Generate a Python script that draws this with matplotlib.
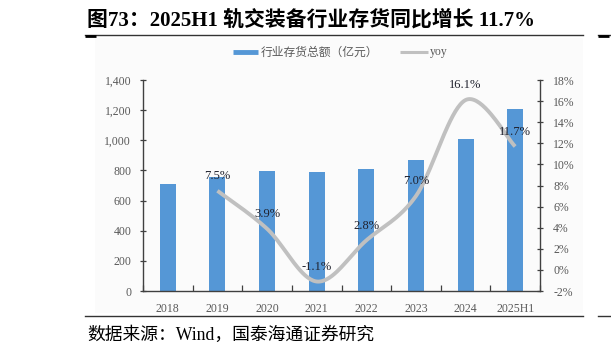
import matplotlib
matplotlib.use('Agg')
import matplotlib.pyplot as plt
import numpy as np
from matplotlib.lines import Line2D
from matplotlib.patches import Rectangle
from matplotlib.ticker import FuncFormatter, FixedLocator

# ---------------- data ----------------
categories = ['2018', '2019', '2020', '2021', '2022', '2023', '2024', '2025H1']
inventory = [712, 758, 798, 789, 812, 868, 1008, 1210]          # 行业存货总额（亿元）
yoy_categories = ['2019', '2020', '2021', '2022', '2023', '2024', '2025H1']
yoy = [7.5, 3.9, -1.1, 2.8, 7.0, 16.1, 11.7]                      # yoy %
left_ticks = [0, 200, 400, 600, 800, 1000, 1200, 1400]
right_ticks = [-2, 0, 2, 4, 6, 8, 10, 12, 14, 16, 18]

title = '图73：2025H1 轨交装备行业存货同比增长 11.7%'
source = '数据来源：Wind，国泰海通证券研究'
legend_bar = '行业存货总额（亿元）'
legend_line = 'yoy'

# ---------------- style ----------------
BAR = '#5597d6'
LINE = '#c0c0c0'
SPINE = '#404040'
TICKTXT = '#595959'
SERIF = ['Liberation Serif', 'Noto Sans CJK SC']
CJK = ['Noto Sans CJK SC', 'Liberation Serif']

W, H = 611, 356
fig = plt.figure(figsize=(W / 100, H / 100), dpi=100)
fig.patch.set_facecolor('white')

def fx(px):
    return px / W

def fy(py):
    return 1 - py / H

# light background of the pasted chart image
fig.add_artist(Rectangle((fx(95), fy(313)), fx(583) - fx(95), fy(38) - fy(313),
                         transform=fig.transFigure, facecolor='#fbfbfb',
                         edgecolor='none', zorder=0))

ax = fig.add_axes([fx(143), fy(291), fx(540) - fx(143), fy(80) - fy(291)])
ax.set_facecolor('none')
x = np.arange(len(categories))
ax.bar(x, inventory, width=0.32, color=BAR, zorder=2)
ax.set_xlim(-0.5, len(categories) - 0.5)
ax.set_ylim(0, 1400)
ax.yaxis.set_major_locator(FixedLocator(left_ticks))
ax.yaxis.set_major_formatter(FuncFormatter(lambda v, p: f'{int(v):,}'))
ax.set_xticks(x)
ax.set_xticklabels(categories)
ax.set_xticks(np.arange(-0.5, len(categories)), minor=True)
ax.tick_params(axis='x', which='major', length=0, pad=9, labelsize=8.5,
               labelcolor=TICKTXT)
ax.tick_params(axis='x', which='minor', direction='in', length=4,
               color=SPINE, width=0.9)
ax.tick_params(axis='y', direction='inout', length=5, color=SPINE, width=0.9,
               labelsize=8.5, labelcolor=TICKTXT, pad=6)
for lab in ax.get_xticklabels() + ax.get_yticklabels():
    lab.set_family(SERIF)
ax.spines['top'].set_visible(False)
ax.spines['right'].set_visible(False)
for s in ('left', 'bottom'):
    ax.spines[s].set_color(SPINE)
    ax.spines[s].set_linewidth(1.0)

ax2 = ax.twinx()
ax2.set_ylim(-2, 18)
ax2.yaxis.set_major_locator(FixedLocator(right_ticks))
ax2.yaxis.set_major_formatter(FuncFormatter(lambda v, p: f'{int(v)}%'))
ax2.tick_params(axis='y', direction='inout', length=5, color=SPINE, width=0.9,
                labelsize=8.5, labelcolor=TICKTXT, pad=7)
for lab in ax2.get_yticklabels():
    lab.set_family(SERIF)
for s in ('top', 'left', 'bottom'):
    ax2.spines[s].set_visible(False)
ax2.spines['right'].set_color(SPINE)
ax2.spines['right'].set_linewidth(1.0)

# smoothed (Excel style) line through the yoy points, computed in display space
xi = np.array([categories.index(c) for c in yoy_categories], dtype=float)
pts = ax2.transData.transform(np.column_stack([xi, yoy]))
n = len(pts)
segs = []
t = np.linspace(0, 1, 40)[:, None]
for i in range(n - 1):
    p0 = pts[max(i - 1, 0)]
    p1 = pts[i]
    p2 = pts[i + 1]
    p3 = pts[min(i + 2, n - 1)]
    c1 = p1 + (p2 - p0) / 6
    c2 = p2 - (p3 - p1) / 6
    seg = (1 - t) ** 3 * p1 + 3 * (1 - t) ** 2 * t * c1 + 3 * (1 - t) * t ** 2 * c2 + t ** 3 * p2
    segs.append(seg if i == 0 else seg[1:])
curve = ax2.transData.inverted().transform(np.vstack(segs))
ax2.plot(curve[:, 0], curve[:, 1], color=LINE, lw=2.8, solid_capstyle='butt', zorder=3)

for xv, v in zip(xi, yoy):
    ax2.annotate(f'{v:.1f}%', (xv, v), xytext=(0, 10.5), textcoords='offset points',
                 ha='center', va='center', fontsize=9, color='#20222e',
                 family=SERIF, zorder=4)

# ---------------- legend ----------------
fig.add_artist(Line2D([fx(233), fx(258)], [fy(52), fy(52)], lw=3.5, color=BAR,
                      solid_capstyle='butt'))
fig.text(fx(261), fy(52), legend_bar, fontsize=8.5, color=TICKTXT, family=CJK,
         ha='left', va='center')
fig.add_artist(Line2D([fx(400), fx(428)], [fy(52), fy(52)], lw=2.2, color=LINE,
                      solid_capstyle='butt'))
fig.text(fx(430), fy(52.5), legend_line, fontsize=8.5, color=TICKTXT, family=SERIF,
         ha='left', va='center')

# ---------------- title / frame lines / source ----------------
fig.text(fx(87), fy(20), title, fontsize=15.0, weight='bold', color='black',
         family=SERIF, ha='left', va='center')
fig.add_artist(Line2D([fx(85), fx(583)], [fy(35), fy(35)], lw=1.0, color='#333333'))
fig.add_artist(Line2D([fx(85), fx(96)], [fy(36.3), fy(36.3)], lw=2.0, color='black',
                      solid_capstyle='butt'))
fig.add_artist(Line2D([fx(85), fx(583)], [fy(316), fy(316)], lw=1.0, color='#333333'))
fig.text(fx(87), fy(335), source, fontsize=12.8, color='black', family=SERIF,
         ha='left', va='center')

# line fragments of the neighbouring column at the right edge
fig.add_artist(Line2D([fx(598), fx(611)], [fy(35), fy(35)], lw=1.0, color='#333333'))
fig.add_artist(Line2D([fx(598), fx(609)], [fy(36.3), fy(36.3)], lw=2.0, color='black',
                      solid_capstyle='butt'))
fig.add_artist(Line2D([fx(598), fx(611)], [fy(316), fy(316)], lw=1.0, color='#333333'))

fig.savefig('out.png', dpi=100)
